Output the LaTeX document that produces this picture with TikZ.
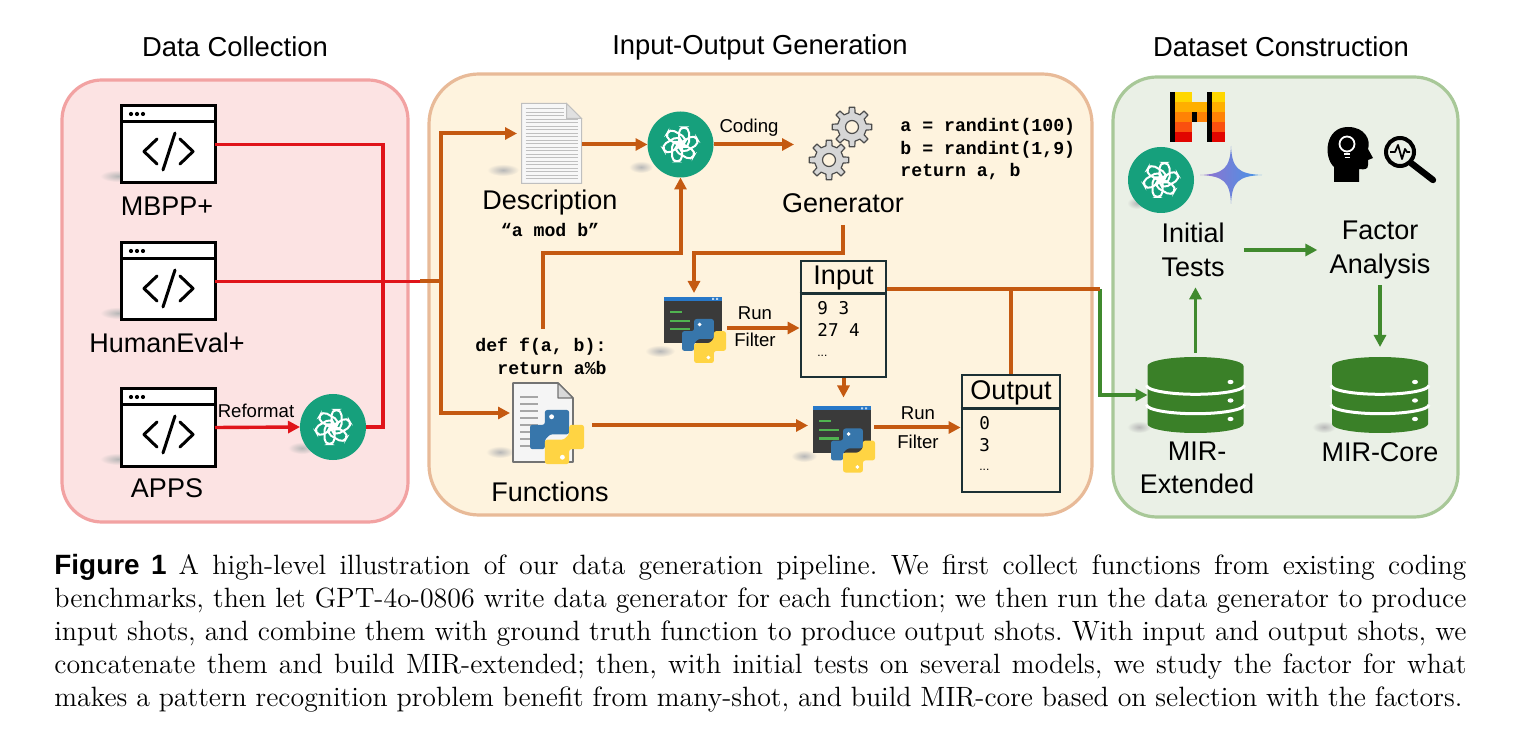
\documentclass[tikz,border=0pt]{standalone}
\usepackage{fontspec}
\newfontfamily\arial{Liberation Sans}
\newfontfamily\cour{Liberation Mono}
\newfontfamily\dmono{DejaVu Sans Mono}
\usetikzlibrary{arrows.meta,shapes.geometric}

\definecolor{redfill}{RGB}{252,227,227}
\definecolor{redborder}{RGB}{242,162,162}
\definecolor{orfill}{RGB}{254,243,222}
\definecolor{orborder}{RGB}{232,186,152}
\definecolor{grfill}{RGB}{234,240,230}
\definecolor{grborder}{RGB}{168,200,152}
\definecolor{redline}{RGB}{224,20,26}
\definecolor{orline}{RGB}{196,89,17}
\definecolor{grline}{RGB}{64,138,46}
\definecolor{gptgreen}{RGB}{22,160,124}
\definecolor{boxedge}{RGB}{28,48,52}
\definecolor{dbgreen}{RGB}{58,128,40}
\definecolor{pyblue}{RGB}{55,118,171}
\definecolor{pyyellow}{RGB}{255,212,67}
\definecolor{termgray}{RGB}{58,58,58}
\definecolor{termblue}{RGB}{40,120,200}
\definecolor{termgreen}{RGB}{80,180,80}
\definecolor{gemP}{RGB}{150,112,205}
\definecolor{gemB}{RGB}{66,150,232}
\definecolor{mY}{RGB}{255,215,0}
\definecolor{mLO}{RGB}{255,175,0}
\definecolor{mO}{RGB}{255,130,5}
\definecolor{mDO}{RGB}{250,80,15}
\definecolor{mR}{RGB}{225,5,0}

\newcommand{\Shadow}[4]{\shade[inner color=black!28, outer color=#4] (#1,#2) ellipse (#3 and 6);}

\newcommand{\CodeWin}[2]{\begin{scope}[shift={(#1,#2)}]
 \draw[line width=1.5pt, fill=white] (-47,-38.5) rectangle (47,38.5);
 \draw[line width=1.5pt] (-47,-23) -- (47,-23);
 \foreach \dd in {-37,-31,-25} \fill (\dd,-30.5) circle (2.1);
 \draw[line width=1.5pt, line cap=round, line join=round] (-11,-5.5) -- (-24,7) -- (-11,19.5) (7,-11.5) -- (-5,25.5) (12,-5.5) -- (25,7) -- (12,19.5);
\end{scope}}

\newcommand{\GptLogo}[2]{\begin{scope}[shift={(#1,#2)}]
 \fill[gptgreen] (0,0) circle (33);
 \foreach \aa in {0,60,...,300} \draw[white, line width=1pt, rotate=\aa, rounded corners=2.6pt] (-1.5,-17) rectangle (8.5,2.5);
\end{scope}}

\newcommand{\DocPage}[2]{\begin{scope}[shift={(#1,#2)}]
 \filldraw[fill=black!3, draw=black!25, line width=0.5pt] (-30,-40) -- (15,-40) -- (30,-25) -- (30,40) -- (-30,40) -- cycle;
 \foreach \yy in {-35,-31.5,-28} \draw[black!25, line width=0.4pt] (-26,\yy) -- (12,\yy);
 \foreach \yy in {-24.5,-21,...,36} \draw[black!25, line width=0.4pt] (-26,\yy) -- (26,\yy);
 \filldraw[fill=black!12, draw=black!25, line width=0.5pt] (15,-40) -- (15,-25) -- (30,-25) -- cycle;
\end{scope}}

\newcommand{\PyLogo}[3]{\begin{scope}[shift={(#1,#2)}, scale=#3]
 \fill[pyblue, rounded corners=1.2pt] (-9,-20) -- (9,-20) -- (9,-2) -- (-5,-2) -- (-9,2) -- (-9,9) -- (-20,9) -- (-20,-9) -- (-9,-9) -- cycle;
 \fill[pyyellow, rounded corners=1.2pt] (9,20) -- (-9,20) -- (-9,2) -- (5,2) -- (9,-2) -- (9,-9) -- (20,-9) -- (20,9) -- (9,9) -- cycle;
 \fill[white] (-4,-15) circle (1.8) (4,15) circle (1.8);
\end{scope}}

\newcommand{\Term}[2]{\begin{scope}[shift={(#1,#2)}]
 \fill[termgray] (-29,-23) rectangle (29,23);
 \fill[termblue] (-29,-23) rectangle (29,-19);
 \fill[white!70!termblue] (19,-22) rectangle (21,-20) (23,-22) rectangle (25,-20);
 \draw[termgreen, line width=1pt] (-23,-8) -- (-11,-8) (-23,1) -- (-3,1) (-23,9) -- (-3,9);
 \PyLogo{11}{21}{1.1}
\end{scope}}

\newcommand{\FuncDoc}[2]{\begin{scope}[shift={(#1,#2)}]
 \filldraw[fill=black!4, draw=black!55, line width=0.8pt, line join=round] (-37,-40) -- (8,-40) -- (23,-25) -- (23,39) -- (-37,39) -- cycle;
 \filldraw[fill=black!15, draw=black!55, line width=0.6pt, line join=round] (8,-40) -- (8,-25) -- (23,-25) -- cycle;
 \foreach \yy in {-26,-19,-12,-5,2,9,16,23} \draw[black!35, line width=1.1pt] (-30,\yy) -- (-12,\yy);
 \PyLogo{7}{14}{1.35}
\end{scope}}

\newcommand{\Gear}[3]{\begin{scope}[shift={(#1,#2)}, scale=#3]
 \filldraw[fill=black!16, draw=black!70, line width=0.6pt, line join=round] (-12:14.5) \foreach \i in {0,45,...,315}{ -- (\i-12:14.5) -- (\i-8:20) -- (\i+8:20) -- (\i+12:14.5)} -- cycle;
 \filldraw[fill=orfill, draw=black!70, line width=0.6pt] (0,0) circle (6.5);
\end{scope}}

\newcommand{\DbIcon}[2]{\begin{scope}[shift={(#1,#2)}]
 \fill[dbgreen] (-48,-29) -- (-48,29) arc[start angle=180, end angle=0, x radius=48, y radius=9] -- (48,-29) arc[start angle=0, end angle=-180, x radius=48, y radius=9] -- cycle;
 \draw[white, line width=1.5pt] (-49,-9.7) arc[start angle=180, end angle=0, x radius=49, y radius=9];
 \draw[white, line width=1.5pt] (-49,9.7) arc[start angle=180, end angle=0, x radius=49, y radius=9];
 \foreach \yy in {-13,5.5,24} \fill[white] (35,\yy) ellipse (3 and 2.2);
\end{scope}}

\newcommand{\HeadIcon}[2]{\begin{scope}[shift={(#1,#2)}]
 \fill[black] (-14,28) -- (-14,13) .. controls (-25,3) and (-23,-27) .. (0,-27) .. controls (17,-27) and (23,-14) .. (20,-5) -- (25,4) -- (20,6) -- (20,11) .. controls (20,15) and (17,16) .. (11,15) -- (11,28) -- cycle;
 \draw[white, line width=0.9pt] (-1,-10) circle (7.5);
 \draw[white, line width=0.9pt] (-4,0) -- (2,0) (-3.5,3.5) -- (1.5,3.5);
\end{scope}}

\newcommand{\MagIcon}[2]{\begin{scope}[shift={(#1,#2)}]
 \draw[line width=2pt] (0,0) circle (14);
 \draw[line width=0.9pt, line join=round] (-10,0) -- (-5,0) -- (-2,-7) -- (2,7) -- (5,-3) -- (7,0) -- (10,0);
 \draw[line width=3.2pt, line cap=round] (11,11) -- (33,28);
\end{scope}}

\newcommand{\GemStar}[2]{\begin{scope}[shift={(#1,#2)}]
 \shade[left color=gemP, right color=gemB] (0,-29) .. controls (1,-7) and (7,-1) .. (31,0) .. controls (7,1) and (1,7) .. (0,29) .. controls (-1,7) and (-7,1) .. (-31,0) .. controls (-7,-1) and (-1,-7) .. (0,-29) -- cycle;
\end{scope}}

\newcommand{\MistralLogo}[2]{\begin{scope}[shift={(#1,#2)}]
 \fill[black] (0,0) rectangle (5,50);
 \fill[mY] (5,0) rectangle (22,10); \fill[black] (37,0) rectangle (42,10); \fill[mY] (42,0) rectangle (55,10);
 \fill[mLO] (5,10) rectangle (37,20); \fill[black] (37,10) rectangle (42,20); \fill[mLO] (42,10) rectangle (55,20);
 \fill[mO] (5,20) rectangle (22,30); \fill[black] (22,20) rectangle (27,30); \fill[mO] (27,20) rectangle (37,30); \fill[black] (37,20) rectangle (42,30); \fill[mO] (42,20) rectangle (55,30);
 \fill[mDO] (5,30) rectangle (22,40); \fill[black] (37,30) rectangle (42,40); \fill[mDO] (42,30) rectangle (55,40);
 \fill[mR] (5,40) rectangle (22,50); \fill[black] (37,40) rectangle (42,50); \fill[mR] (42,40) rectangle (55,50);
\end{scope}}

\begin{document}
\begin{tikzpicture}[x=0.5pt,y=-0.5pt,
 lbl/.style={font=\arial\fontsize{13.5}{17}\selectfont, inner sep=0pt, align=center},
 ttl/.style={font=\arial\fontsize{13.7}{16}\selectfont, inner sep=0pt},
 sml/.style={font=\arial\fontsize{9.3}{11}\selectfont, inner sep=0pt},
 codetxt/.style={font=\cour\bfseries\fontsize{9.1}{11}\selectfont, inner sep=0pt, anchor=west},
 iotxt/.style={font=\dmono\fontsize{8.8}{11}\selectfont, inner sep=0pt, anchor=west},
 dots/.style={font=\arial\fontsize{6}{7}\selectfont, inner sep=0pt, anchor=west},
 iohead/.style={font=\arial\fontsize{13.5}{16}\selectfont, inner sep=0pt},
 holder/.style={inner sep=0pt, outer sep=0pt},
 iobox/.style={draw=boxedge, line width=1.4pt, inner sep=0pt},
 redln/.style={draw=redline, line width=1.7pt},
 orln/.style={draw=orline, line width=2pt},
 grln/.style={draw=grline, line width=1.7pt},
 arr/.style={-{Triangle[length=6pt,width=6pt]}},
 captxt/.style={font=\frenchspacing\fontsize{13.95}{16.5}\selectfont, inner sep=0pt, anchor=base west}
]
\useasboundingbox (0,0) rectangle (1520,748);
\fill[white] (0,0) rectangle (1520,748);

% panels
\draw[fill=redfill, draw=redborder, line width=1.6pt, rounded corners=20pt] (62,80) rectangle (408,522);
\draw[fill=orfill, draw=orborder, line width=1.6pt, rounded corners=25pt] (429,74) rectangle (1092,515);
\draw[fill=grfill, draw=grborder, line width=1.6pt, rounded corners=22pt] (1113,77) rectangle (1458,517);

% titles
\node[ttl] (tdc) at (235,47) {Data Collection};
\node[ttl] (tio) at (760,47) {Input-Output Generation};
\node[ttl] (tds) at (1281,47) {Dataset Construction};

% shadows
\Shadow{118}{176}{18}{redfill}
\Shadow{118}{313}{18}{redfill}
\Shadow{118}{459}{18}{redfill}
\Shadow{302}{448}{14}{redfill}
\Shadow{503}{170}{16}{orfill}
\Shadow{641}{167}{12}{orfill}
\Shadow{660}{351}{15}{orfill}
\Shadow{500}{452}{14}{orfill}
\Shadow{804}{456}{13}{orfill}
\Shadow{1139}{427}{12}{grfill}
\Shadow{1324}{427}{12}{grfill}
\Shadow{1137}{203}{10}{grfill}

% icons
\CodeWin{168}{144.5}
\CodeWin{168}{281.5}
\CodeWin{168}{427.5}
\GptLogo{333}{427}
\DocPage{551.5}{143.5}
\GptLogo{680.5}{144.5}
\Gear{852}{127}{1}
\Gear{829}{160}{1}
\Term{693}{320}
\Term{842}{429.5}
\FuncDoc{550}{423}
\MistralLogo{1170}{92}
\GptLogo{1161}{180}
\GemStar{1231}{175}
\HeadIcon{1348}{154}
\MagIcon{1400}{152}
\DbIcon{1195.5}{395}
\DbIcon{1380}{395}

% holder nodes
\node[holder, minimum width=47pt, minimum height=38.5pt] (mbpp) at (168,144.5) {};
\node[holder, minimum width=47pt, minimum height=38.5pt] (human) at (168,281.5) {};
\node[holder, minimum width=47pt, minimum height=38.5pt] (apps) at (168,427.5) {};
\node[holder, circle, minimum size=33pt] (gpt1) at (333,427) {};
\node[holder, minimum width=30.5pt, minimum height=40.5pt] (desc) at (551.5,143.5) {};
\node[holder, circle, minimum size=33pt] (gpt2) at (680.5,144.5) {};
\node[holder, minimum width=31pt, minimum height=36pt] (gen) at (841,144) {};
\node[holder, minimum width=29pt, minimum height=23pt] (term1) at (693,320) {};
\node[holder, minimum width=29pt, minimum height=23pt] (term2) at (842,429.5) {};
\node[holder, minimum width=37pt, minimum height=40pt] (func) at (550,423) {};
\node[holder, circle, minimum size=33pt] (gpt3) at (1161,180) {};
\node[holder, minimum width=48pt, minimum height=38pt] (db1) at (1195.5,395) {};
\node[holder, minimum width=48pt, minimum height=38pt] (db2) at (1380,395) {};

% io boxes
\node[iobox, minimum width=42.5pt, minimum height=58pt] (input) at (843.5,319) {};
\draw[draw=boxedge, line width=1.4pt] ([yshift=-17pt]input.north west) -- ([yshift=-17pt]input.north east);
\node[iobox, minimum width=49pt, minimum height=58.5pt] (output) at (1011,433.5) {};
\draw[draw=boxedge, line width=1.4pt] ([yshift=-17.5pt]output.north west) -- ([yshift=-17.5pt]output.north east);
\node[iohead] (inlbl) at (843.5,278) {Input};
\node[iohead] (outlbl) at (1011,393) {Output};
\node[iotxt] (in1) at (817,308) {9 3};
\node[iotxt] (in2) at (817,330) {27 4};
\node[dots] (in3) at (817,356) {...};
\node[iotxt] (out1) at (979,423) {0};
\node[iotxt] (out2) at (979,445) {3};
\node[dots] (out3) at (979,470) {...};

% labels
\node[lbl] (lmbpp) at (167,206) {MBPP+};
\node[lbl] (lhuman) at (167,343) {HumanEval+};
\node[lbl] (lapps) at (167,488) {APPS};
\node[sml] (lref) at (256,411) {Reformat};
\node[lbl] (ldesc) at (550,203) {Description};
\node[codetxt, anchor=center] (lmod) at (550,230) {“a mod b”};
\node[sml] (lcoding) at (749,128) {Coding};
\node[lbl] (gentext) at (843,203) {Generator};
\node[codetxt] (g1) at (900,127) {a = randint(100)};
\node[codetxt] (g2) at (900,150) {b = randint(1,9)};
\node[codetxt] (g3) at (900,172) {return a, b};
\node[codetxt] (def1) at (475,347) {def f(a, b):};
\node[codetxt] (def2) at (497,368) {return a\%b};
\node[sml] (run1) at (755,313) {Run};
\node[sml] (fil1) at (755,340) {Filter};
\node[sml] (run2) at (918,413) {Run};
\node[sml] (fil2) at (918,442) {Filter};
\node[lbl] (lfunc) at (550,492) {Functions};
\node[lbl] (initial) at (1193,250) {Initial\\Tests};
\node[lbl] (factor) at (1380,250) {Factor\\Analysis};
\node[lbl, font=\arial\fontsize{13.5}{16.5}\selectfont] (mirext) at (1197,468) {MIR-\\Extended};
\node[lbl] (mircore) at (1380,452) {MIR-Core};

% coordinates
\coordinate (jr) at (383,281.5);
\coordinate (rend) at (420,281.5);
\coordinate (jo) at (441,281.5);
\coordinate (dx) at (543,253);
\coordinate (dstart) at (543,329);
\coordinate (gx) at (694,253);
\coordinate (jg) at (1100,289);
\coordinate (t1o) at ([xshift=2.5pt,yshift=-4pt]term1.east);
\coordinate (t2o) at ([xshift=1.5pt,yshift=1pt]term2.east);
\coordinate (t2i) at ([xshift=-2.5pt,yshift=2pt]term2.west);

% red connectors
\draw[redln] (mbpp.east) -| (jr) |- (gpt1.east);
\draw[redln] (human.east) -- (rend);
\draw[redln, arr] (apps.east) -- (gpt1.west);

% orange connectors
\draw[orln] (rend) -- (jo);
\draw[orln, arr, shorten >=2pt] (jo) |- ([yshift=5pt]desc.west);
\draw[orln, arr, shorten >=1.5pt] (jo) |- ([yshift=5pt]func.west);
\draw[orln, arr] (desc.east |- gpt2.west) -- (gpt2.west);
\draw[orln, arr, shorten >=8pt] (gpt2.east) -- (gen.west |- gpt2.east);
\draw[orln, arr] (dstart) -- (dx) -| (gpt2.south);
\draw[orln, arr, shorten >=2pt] ([yshift=-6pt]gentext.south) |- (gx) -- (gx |- term1.north);
\draw[orln, arr] (t1o) -- (t1o -| input.west);
\draw[orln, arr, shorten >=4.5pt] (input.south) -- (input.south |- term2.north);
\draw[orln, arr, shorten <=2.5pt] (t2i -| func.east) -- (t2i);
\draw[orln, arr] (t2o) -- (t2o -| output.west);
\draw[grln, arr] (jg) |- (db1.west);
\draw[orln] (input.east |- jg) -- (jg);
\draw[orln] (output.north) -- (output.north |- jg);

% green connectors
\draw[grln, arr] ([xshift=9.5pt]initial.east) -- ([xshift=-6pt]factor.west);
\draw[grln, arr, shorten <=2pt, shorten >=5pt] (db1.north) -- (db1.north |- initial.south);
\draw[grln, arr, shorten <=3pt, shorten >=5pt] (factor.south -| db2.north) -- (db2.north);

% caption
\node[captxt] (cap1) at (54,574) {\makebox[706pt][s]{{\arial\bfseries Figure 1}\hspace{6pt}A high-level illustration of our data generation pipeline. We first collect functions from existing coding}};
\node[captxt] (cap2) at (54,607) {\makebox[706pt][s]{benchmarks, then let GPT-4o-0806 write data generator for each function; we then run the data generator to produce}};
\node[captxt] (cap3) at (54,640) {\makebox[706pt][s]{input shots, and combine them with ground truth function to produce output shots. With input and output shots, we}};
\node[captxt] (cap4) at (54,673) {\makebox[706pt][s]{concatenate them and build MIR-extended; then, with initial tests on several models, we study the factor for what}};
\node[captxt] (cap5) at (54,706) {\makebox[704pt][s]{makes a pattern recognition problem benefit from many-shot, and build MIR-core based on selection with the factors.}};
\end{tikzpicture}
\end{document}
